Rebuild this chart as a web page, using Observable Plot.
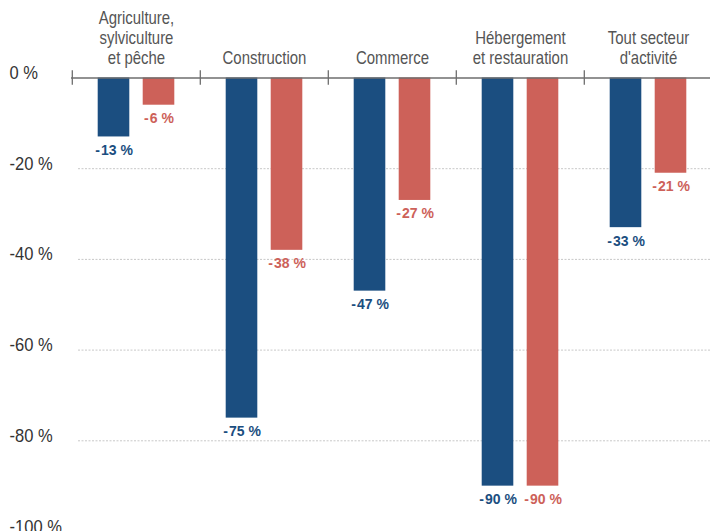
<!DOCTYPE html>
<html>
<head>
<meta charset="utf-8">
<script src="https://cdn.jsdelivr.net/npm/d3@7"></script>
<script src="https://cdn.jsdelivr.net/npm/@observablehq/plot@0.6"></script>
<style>
  html, body { margin: 0; padding: 0; background: #fff; }
  svg { display: block; }
</style>
</head>
<body>
<div id="chart"></div>
<script>
const categories = [
  "Agriculture,\nsylviculture\net pêche",
  "Construction",
  "Commerce",
  "Hébergement\net restauration",
  "Tout secteur\nd'activité"
];
const seriesNames = ["Série 1", "Série 2"];
const seriesBlue = [-13, -75, -47, -90, -33];
const seriesRed = [-6, -38, -27, -90, -21];
const yTicks = [0, -20, -40, -60, -80, -100];
const gridTicks = [-20, -40, -60, -80];
const colors = ["#1b4e80", "#cd6159"];

const rows = [];
categories.forEach((c, i) => {
  rows.push({cat: c, series: seriesNames[0], value: seriesBlue[i]});
  rows.push({cat: c, series: seriesNames[1], value: seriesRed[i]});
});

const FONT = "'Liberation Sans', Arial, sans-serif";
const fmt = v => v === 0 ? "0 %" : `-${Math.abs(v)} %`;
const fmtValue = v => `-\u200A${Math.abs(v)} %`;
const OFF = 22.5;

const blueRows = rows.filter(d => d.series === seriesNames[0]);
const redRows = rows.filter(d => d.series === seriesNames[1]);

const chart = Plot.plot({
  width: 710,
  height: 531,
  marginTop: 77.5,
  marginBottom: 0,
  marginLeft: 71,
  marginRight: 0,
  style: {fontFamily: FONT, background: "#fff"},
  x: {type: "band", domain: categories, range: [71, 713.5], padding: 0, axis: null},
  y: {domain: [-100, 0], axis: null},
  color: {domain: seriesNames, range: colors},
  marks: [
    Plot.ruleY(gridTicks, {stroke: "#c8c8c8", strokeWidth: 1, strokeDasharray: "2,1.5", insetLeft: 7}),
    Plot.barY(blueRows, {x: "cat", y: "value", fill: "series", insetLeft: 48.2, insetRight: 48.2, dx: -OFF}),
    Plot.barY(redRows, {x: "cat", y: "value", fill: "series", insetLeft: 48.2, insetRight: 48.2, dx: OFF}),
    Plot.ruleY([0], {stroke: "#6e6e6e", strokeWidth: 1.3}),
    Plot.ruleX(categories, {x: d => d, y1: 1.6, y2: -1.6, dx: -64.2, stroke: "#6e6e6e", strokeWidth: 1.3}),
    Plot.text(blueRows, {x: "cat", y: "value", text: d => fmtValue(d.value), fill: colors[0], dx: -OFF, dy: 13.5, fontWeight: "bold", fontSize: 14, lineAnchor: "middle"}),
    Plot.text(redRows, {x: "cat", y: "value", text: d => fmtValue(d.value), fill: colors[1], dx: OFF, dy: 13.5, fontWeight: "bold", fontSize: 14, lineAnchor: "middle"}),
    Plot.text(categories, {x: d => d, frameAnchor: "top", text: d => d, lineAnchor: "bottom", dy: -14.5, fontSize: 18, lineHeight: 1.1, fill: "#555", className: "narrow83"}),
    Plot.text(yTicks, {y: d => d, frameAnchor: "left", text: d => fmt(d), textAnchor: "start", dx: -62, lineAnchor: "bottom", dy: 1, fontSize: 18, fill: "#333", className: "narrow92"})
  ]
});
document.getElementById("chart").appendChild(chart);

// emulate a narrow typeface by horizontal compression around each text's anchor
function narrow(selector, s) {
  chart.querySelectorAll(selector + " text").forEach(t => {
    const tr = t.getAttribute("transform");
    if (tr) {
      t.setAttribute("transform", tr + ` scale(${s},1)`);
    } else {
      const x = +(t.getAttribute("x") || 0), y = +(t.getAttribute("y") || 0);
      t.setAttribute("transform", `translate(${x},${y}) scale(${s},1) translate(${-x},${-y})`);
    }
  });
}
narrow(".narrow83", 0.83);
narrow(".narrow92", 0.92);
</script>
</body>
</html>
